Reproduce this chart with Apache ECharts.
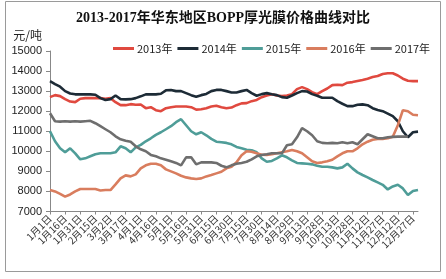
<!DOCTYPE html>
<html>
<head>
<meta charset="utf-8">
<script src="https://cdn.jsdelivr.net/npm/echarts@6/dist/echarts.min.js"></script>
<style>html,body{margin:0;padding:0;background:#fff}#c{width:446px;height:279px}</style>
</head>
<body>
<div id="c"></div>
<script>
// sampled day-of-year (every 5 days)
var days = [];
for (var i = 0; i <= 73; i++) days.push(i * 5);

var xTickLabels = ['1月1日','1月16日','1月31日','2月15日','3月2日','3月17日','4月1日','4月16日','5月1日','5月16日','5月31日','6月15日','6月30日','7月15日','7月30日','8月14日','8月29日','9月13日','9月28日','10月13日','10月28日','11月12日','11月27日','12月12日','12月27日'];

var seriesNames = ['2013年','2014年','2015年','2016年','2017年'];

var v2013 = [12700,12800,12750,12600,12480,12450,12620,12650,12650,12650,12650,12620,12650,12450,12300,12300,12350,12320,12330,12150,
12200,12050,12000,12150,12200,12230,12230,12230,12200,12080,12100,12150,12230,12270,12200,12150,12180,12300,12390,12400,
12500,12560,12700,12780,12840,12780,12750,12780,12850,13100,13200,13100,12950,12850,13000,13130,13300,13320,13300,13420,
13450,13500,13550,13620,13700,13750,13850,13890,13890,13780,13620,13520,13500,13500];

var v2014 = [13500,13350,13220,13000,12880,12840,12840,12840,12840,12820,12650,12560,12600,12780,12600,12590,12600,12650,12740,12840,
12840,12840,12870,13040,13060,13000,13000,12900,12800,12720,12800,12860,13000,13060,13060,13000,12930,12930,13000,13060,
12900,12770,12850,12900,12840,12800,12700,12670,12780,12900,13000,12980,12850,12770,12670,12670,12670,12500,12370,12250,
12250,12320,12340,12300,12150,12060,12000,11880,11750,11500,11000,10700,10950,10980];

var v2015 = [11000,10500,10150,9950,10150,9900,9600,9650,9750,9850,9900,9900,9900,9950,10250,10150,9950,10200,10320,10500,
10650,10820,10950,11100,11250,11450,11600,11300,11000,10850,10950,10800,10620,10480,10450,10420,10350,10220,10150,10080,
10050,9950,9650,9480,9520,9650,9800,9700,9550,9420,9400,9380,9350,9280,9230,9230,9200,9150,9200,9380,
9150,8950,8820,8700,8570,8450,8330,8100,8250,8330,8150,7820,8020,8070];

var v2016 = [8070,8000,7880,7740,7850,8000,8120,8120,8120,8120,8050,8070,8070,8350,8650,8800,8750,8850,9150,9300,
9380,9380,9300,9100,9000,8900,8780,8700,8650,8620,8650,8750,8820,8900,8980,9150,9230,9450,9800,10000,
9980,9900,9830,9820,9850,9900,9950,10000,10066,10000,9900,9700,9500,9420,9450,9500,9580,9750,9900,10000,
10000,10150,10350,10480,10580,10610,10620,10650,10730,11300,12050,12000,11820,11800];

var v2017 = [11900,11500,11480,11500,11480,11500,11480,11500,11520,11400,11250,11100,10950,10750,10600,10530,10480,10250,10100,10000,
9820,9750,9650,9580,9500,9420,9300,9700,9700,9350,9450,9450,9450,9420,9280,9200,9300,9380,9420,9480,
9600,9750,9820,9850,9900,9900,9900,10300,10350,10700,11150,11000,10800,10500,10420,10400,10420,10400,10450,10400,
10450,10350,10600,10850,10750,10650,10650,10700,10720,10730,10730,10730];

var colors = ['#e0493f','#1d2b36','#4f9d98','#d97d5e','#6e6e6e'];
var values = [v2013, v2014, v2015, v2016, v2017];

function pairs(arr){ var out=[]; for (var i=0;i<arr.length;i++) out.push([days[i], arr[i]]); return out; }

var chart = echarts.init(document.getElementById('c'));
var series = seriesNames.map(function(n, k){
  return { name: n, type: 'line', data: pairs(values[k]), showSymbol: false, symbol: 'none',
    lineStyle: { width: 2.6, color: colors[k] }, itemStyle: { color: colors[k] } };
});

chart.setOption({
  animation: false,
  color: colors,
  title: { text: '2013-2017年华东地区BOPP厚光膜价格曲线对比', left: 'center', top: 6,
    textStyle: { fontFamily: 'Liberation Serif, Noto Sans CJK SC', fontWeight: 'bold', fontSize: 14, color: '#111' } },
  legend: { data: seriesNames, left: 108, top: 38, width: 336, icon: 'rect', itemWidth: 21, itemHeight: 3, itemGap: 5,
    textStyle: { fontFamily: 'Noto Sans CJK SC', fontSize: 11, color: '#222', padding: [0,0,0,-2] } },
  grid: { left: 50, right: 28, top: 51, bottom: 67.5 },
  xAxis: { type: 'value', min: 0, max: 365, interval: 15,
    axisLine: { lineStyle: { color: '#888' } },
    axisTick: { show: true, length: 3, lineStyle: { color: '#888' } },
    splitLine: { show: false },
    axisLabel: { rotate: 45, fontSize: 10, color: '#333', margin: 5, showMaxLabel: false,
      fontFamily: 'Noto Sans CJK SC',
      formatter: function(v){ var idx = Math.round(v / 15); return (v % 15 === 0 && xTickLabels[idx]) ? xTickLabels[idx] : ''; } } },
  yAxis: { type: 'value', min: 7000, max: 15000, interval: 1000,
    name: '元/吨', nameLocation: 'end', nameGap: 10,
    nameTextStyle: { align: 'right', padding: [0, 8, 0, 0], fontSize: 12, color: '#222', fontFamily: 'Noto Sans CJK SC' },
    axisLine: { show: true, lineStyle: { color: '#888' } },
    axisTick: { show: true, length: 4, lineStyle: { color: '#888' } },
    splitLine: { show: false },
    axisLabel: { fontSize: 11, color: '#222', margin: 8, fontFamily: 'Liberation Sans',
      formatter: function(v){ return String(v); } } },
  graphic: [{ type: 'rect', shape: { x: 5.5, y: 1.5, width: 435, height: 270 },
    style: { fill: 'none', stroke: '#9a9a9a', lineWidth: 1 }, silent: true, z: -1 }],
  series: series
});
</script>
</body>
</html>
